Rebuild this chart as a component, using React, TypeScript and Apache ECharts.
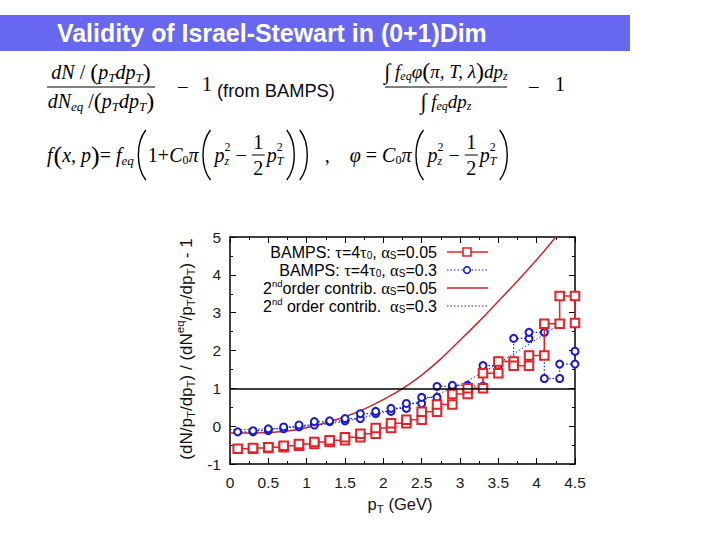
import React, { useEffect, useRef } from 'react';
import * as echarts from 'echarts';

// ---------------- data ----------------
const binEdges = [0.1, 0.3, 0.5, 0.7, 0.9, 1.1, 1.3, 1.5, 1.7, 1.9, 2.1, 2.3, 2.5, 2.7, 2.9, 3.1, 3.3, 3.5, 3.7, 3.9, 4.1, 4.3, 4.5];
const bampsAlpha005 = [-0.6, -0.58, -0.56, -0.52, -0.47, -0.42, -0.37, -0.29, -0.2, -0.05, 0.08, 0.17, 0.38, 0.57, 0.85, 1.0, 1.4, 1.71, 1.6, 1.87, 2.71, 3.44, 2.73];
const bampsAlpha03 = [-0.15, -0.12, -0.07, -0.02, 0.03, 0.12, 0.14, 0.2, 0.33, 0.39, 0.47, 0.6, 0.76, 1.05, 1.08, 1.06, 1.6, 1.72, 2.32, 2.48, 1.26, 1.64, 1.98];

const curve005X = [0, 0.25, 0.5, 0.75, 1.0, 1.25, 1.5, 1.75, 2.0, 2.25, 2.5, 2.75, 3.0, 3.25, 3.5, 3.75, 4.0, 4.25, 4.5];
const curve005Y = [-0.18, -0.18, -0.17, -0.13, -0.04, 0.09, 0.25, 0.45, 0.7, 0.99, 1.35, 1.78, 2.27, 2.77, 3.3, 3.84, 4.4, 5.0, 5.6];
const curve03X = [0, 0.5, 1.0, 1.5, 2.0, 2.5, 3.0, 3.5, 4.0, 4.3];
const curve03Y = [-0.09, -0.07, 0.0, 0.13, 0.36, 0.68, 1.1, 1.66, 2.3, 2.7];

const referenceLevel = 1;
const xTicks = { min: 0, max: 4.5, interval: 0.5 };
const yTicks = { min: -1, max: 5, interval: 1 };

// ---------------- helpers ----------------
const SERIF = 'Liberation Serif';
const SANS = 'Liberation Sans';

function stepPoints(edges: number[], vals: number[]) {
  const pts: number[][] = [[edges[0], vals[0]]];
  for (let k = 1; k < edges.length; k++) {
    pts.push([edges[k], vals[k - 1]]);
    pts.push([edges[k], vals[k]]);
  }
  return pts;
}

let mctx: CanvasRenderingContext2D | null = null;
function tw(t: string, s: number, f: string, it: boolean, b: boolean) {
  if (!mctx) mctx = document.createElement('canvas').getContext('2d');
  if (!mctx) return t.length * s * 0.5;
  mctx.font = `${it ? 'italic ' : ''}${b ? 'bold ' : ''}${s}px "${f}"`;
  return mctx.measureText(t).width;
}
function fit(t: string, f: string, b: boolean, target: number) {
  return (20 * target) / tw(t, 20, f, false, b);
}

function txt(t: string, x: number, y: number, s: number, f: string, it: boolean, b: boolean, c: string, align = 'left') {
  return {
    type: 'text', x, y, silent: true,
    style: {
      text: t, fontSize: s, fontFamily: f, fontStyle: it ? 'italic' : 'normal', fontWeight: b ? 'bold' : 'normal',
      fill: c, align, verticalAlign: 'middle', textAlign: align, textVerticalAlign: 'middle',
    },
  };
}

type Part = {
  t?: string; s?: number; i?: boolean; b?: boolean; f?: string; dy?: number; c?: string; adv?: boolean; sp?: number;
  frac?: [string, string]; fs?: number; fo?: number; paren?: '(' | ')'; h?: number; w?: number;
};
type Base = { s: number; f: string; i?: boolean; b?: boolean; c: string };

function row(parts: Part[], x0: number, y: number, base: Base, align: 'left' | 'center' | 'right' = 'left') {
  let x = 0;
  const items: any[] = [];
  for (const p of parts) {
    x += p.sp || 0;
    if (p.frac) {
      const fs = p.fs || base.s;
      const w = Math.max(tw(p.frac[0], fs, base.f, false, false), tw(p.frac[1], fs, base.f, false, false)) + 3;
      items.push({ kind: 'frac', x, w, p, fs });
      x += w;
    } else if (p.paren) {
      const w = p.w || 12;
      items.push({ kind: 'paren', x, w, p });
      x += w;
    } else {
      const s = p.s ?? base.s;
      const f = p.f ?? base.f;
      const it = p.i ?? base.i ?? false;
      const b = p.b ?? base.b ?? false;
      const w = tw(p.t || '', s, f, it, b);
      items.push({ kind: 'text', x, w, p, s, f, it, b });
      if (p.adv !== false) x += w;
    }
  }
  const total = x;
  const off = align === 'left' ? x0 : align === 'center' ? x0 - total / 2 : x0 - total;
  const els: any[] = [];
  for (const it of items) {
    const c = it.p.c || base.c;
    if (it.kind === 'frac') {
      const cx = off + it.x + it.w / 2;
      const fo = it.p.fo || 12;
      els.push(txt(it.p.frac[0], cx, y - fo, it.fs, base.f, false, false, c, 'center'));
      els.push(txt(it.p.frac[1], cx, y + fo, it.fs, base.f, false, false, c, 'center'));
      els.push({ type: 'line', silent: true, shape: { x1: cx - it.w / 2, y1: y, x2: cx + it.w / 2, y2: y }, style: { stroke: c, lineWidth: 1 } });
    } else if (it.kind === 'paren') {
      const h = it.p.h || 50;
      const x1 = off + it.x;
      const w = it.w;
      const open = it.p.paren === '(';
      const tip = open ? x1 + w - 2 : x1 + 2;
      const belly = open ? x1 + 1 : x1 + w - 1;
      els.push({
        type: 'bezierCurve', silent: true,
        shape: { x1: tip, y1: y - h / 2, cpx1: belly, cpy1: y - h / 4, cpx2: belly, cpy2: y + h / 4, x2: tip, y2: y + h / 2 },
        style: { stroke: c, lineWidth: 1.4, fill: 'none' },
      });
    } else {
      els.push(txt(it.p.t, off + it.x, y + (it.p.dy || 0), it.s, it.f, it.it, it.b, c, 'left'));
    }
  }
  return { els, w: total };
}

function fracRows(num: Part[], den: Part[], cx: number, lineY: number, x1: number, x2: number, upOff: number, downOff: number, base: Base) {
  const a = row(num, cx, lineY - upOff, base, 'center');
  const b = row(den, cx, lineY + downOff, base, 'center');
  return [
    ...a.els, ...b.els,
    { type: 'line', silent: true, shape: { x1, y1: lineY, x2, y2: lineY }, style: { stroke: '#000', lineWidth: 1 } },
  ];
}

function buildGraphics() {
  const els: any[] = [];
  // title banner
  els.push({ type: 'rect', silent: true, shape: { x: 0, y: 15, width: 630, height: 36 }, style: { fill: '#6767f2' } });
  const title = 'Validity of Israel-Stewart in (0+1)Dim';
  els.push(txt(title, 57, 33, fit(title, SANS, true, 430), SANS, false, true, '#ffffff'));

  const fb: Base = { s: 20, f: SERIF, i: true, c: '#000' };
  const sub = (t: string, extra: Part = {}): Part => ({ t, s: 13, dy: 5, ...extra });
  // formula 1
  els.push(...fracRows(
    [{ t: 'dN' }, { t: ' / ', i: false }, { t: '(', i: false, s: 24 }, { t: 'p' }, sub('T'), { t: 'dp' }, sub('T'), { t: ')', i: false, s: 24 }],
    [{ t: 'dN' }, sub('eq'), { t: ' /', i: false }, { t: '(', i: false, s: 24 }, { t: 'p' }, sub('T'), { t: 'dp' }, sub('T'), { t: ')', i: false, s: 24 }],
    101, 87, 47, 155, 15, 14, fb));
  els.push(txt('–', 178, 85, 19, SERIF, false, false, '#000'));
  els.push(txt('1', 202, 84, 20, SERIF, false, false, '#000'));
  const fromB = '(from BAMPS)';
  els.push(txt(fromB, 217, 90, fit(fromB, SANS, false, 118), SANS, false, false, '#0a0a20'));

  // formula 2
  const fb2: Base = { s: 19, f: SERIF, i: true, c: '#000' };
  const sub2 = (t: string): Part => ({ t, s: 12, dy: 5 });
  els.push(...fracRows(
    [{ t: '∫', i: false, s: 22 }, { t: ' f' }, sub2('eq'), { t: 'φ' }, { t: '(', i: false, s: 24 }, { t: 'π, T, λ' }, { t: ')', i: false, s: 24 }, { t: 'dp' }, sub2('z')],
    [{ t: '∫', i: false, s: 22 }, { t: ' f' }, sub2('eq'), { t: 'dp' }, sub2('z')],
    446, 87, 385, 507, 16, 14, fb2));
  els.push(txt('–', 529, 85, 19, SERIF, false, false, '#000'));
  els.push(txt('1', 555, 84, 20, SERIF, false, false, '#000'));

  // formula 3
  const BH = 50;
  const inner: Part[] = [
    { t: 'p', sp: 2 }, { t: 'z', s: 12, dy: 6, adv: false }, { t: '2', i: false, s: 12, dy: -8 },
    { t: ' − ', i: false }, { frac: ['1', '2'], fs: 20, fo: 13 },
    { t: 'p', sp: 2 }, { t: 'T', s: 12, dy: 6, adv: false }, { t: '2', i: false, s: 12, dy: -8 },
  ];
  const f3: Part[] = [
    { t: 'f' }, { t: '(', i: false, s: 26, sp: 1 }, { t: 'x, p' }, { t: ')', i: false, s: 26 }, { t: '= ', i: false }, { t: 'f' }, sub('eq'),
    { paren: '(', h: BH, w: 13, sp: 1 }, { t: '1+', i: false }, { t: 'C' }, { t: '0', i: false, s: 12, dy: 5 }, { t: 'π' },
    { paren: '(', h: BH, w: 13, sp: 1 }, ...inner, { paren: ')', h: BH, w: 13, sp: 2 }, { paren: ')', h: BH, w: 13 },
    { t: ',', i: false, sp: 14 },
    { t: 'φ', sp: 20 }, { t: ' = ', i: false }, { t: 'C' }, { t: '0', i: false, s: 12, dy: 5 }, { t: 'π' },
    { paren: '(', h: BH, w: 13, sp: 1 }, ...inner, { paren: ')', h: BH, w: 13, sp: 2 },
  ];
  els.push(...row(f3, 47, 155, fb).els);

  // legend
  const lb: Base = { s: 16, f: SANS, c: '#000' };
  const g = (t: string, extra: Part = {}): Part => ({ t, f: SERIF, s: 16.5, ...extra });
  const ls = (t: string): Part => ({ t, s: 10, dy: 3.5 });
  const lp = (t: string): Part => ({ t, s: 9.5, dy: -5 });
  const legendRows: Part[][] = [
    [{ t: 'BAMPS: ' }, g('τ'), { t: '=4' }, g('τ'), ls('0'), { t: ', ' }, g('α'), ls('S'), { t: '=0.05' }],
    [{ t: 'BAMPS: ' }, g('τ'), { t: '=4' }, g('τ'), ls('0'), { t: ', ' }, g('α'), ls('S'), { t: '=0.3' }],
    [{ t: '2' }, lp('nd'), { t: 'order contrib. ' }, g('α'), ls('S'), { t: '=0.05' }],
    [{ t: '2' }, lp('nd'), { t: ' order contrib.  ' }, g('α'), ls('S'), { t: '=0.3' }],
  ];
  const rowY = [252, 270, 288, 306];
  legendRows.forEach((r, i) => els.push(...row(r, 437, rowY[i], lb, 'right').els));
  const sx1 = 447, sx2 = 488, sm = 467;
  els.push({ type: 'line', silent: true, shape: { x1: sx1, y1: rowY[0], x2: sx2, y2: rowY[0] }, style: { stroke: '#e4222a', lineWidth: 1.5 } });
  els.push({ type: 'rect', silent: true, shape: { x: sm - 4, y: rowY[0] - 4, width: 8, height: 8 }, style: { fill: '#fff', stroke: '#e4222a', lineWidth: 1.6 } });
  els.push({ type: 'line', silent: true, shape: { x1: sx1, y1: rowY[1], x2: sx2, y2: rowY[1] }, style: { stroke: '#1a1ad0', lineWidth: 1.2, lineDash: [1.5, 2] } });
  els.push({ type: 'circle', silent: true, shape: { cx: sm, cy: rowY[1], r: 3.3 }, style: { fill: '#fff', stroke: '#1a1ad0', lineWidth: 1.6 } });
  els.push({ type: 'line', silent: true, shape: { x1: sx1, y1: rowY[2], x2: sx2, y2: rowY[2] }, style: { stroke: '#c42a30', lineWidth: 1.5 } });
  els.push({ type: 'line', silent: true, shape: { x1: sx1, y1: rowY[3], x2: sx2, y2: rowY[3] }, style: { stroke: '#22229a', lineWidth: 1, lineDash: [1.5, 2] } });

  // axis titles
  const ab: Base = { s: 17, f: SANS, c: '#111' };
  const as = (t: string): Part => ({ t, s: 11.5, dy: 4.5 });
  const ap = (t: string): Part => ({ t, s: 11.5, dy: -6.5 });
  const yt: Part[] = [
    { t: '(dN/p' }, as('T'), { t: '/dp' }, as('T'), { t: ') / (dN' }, ap('eq'), { t: '/p' }, as('T'), { t: '/dp' }, as('T'), { t: ') - 1' },
  ];
  els.push({ type: 'group', x: 186, y: 349, rotation: Math.PI / 2, children: row(yt, 0, 0, ab, 'center').els });
  els.push(...row([{ t: 'p' }, as('T'), { t: ' (GeV)' }], 400, 504, { s: 16.5, f: SANS, c: '#111' }, 'center').els);
  return els;
}

export default function App() {
  const ref = useRef<HTMLDivElement>(null);
  useEffect(() => {
    if (!ref.current) return;
    const chart = echarts.init(ref.current, null, { renderer: 'svg' });
    const axisCommon = {
      type: 'value',
      axisLine: { show: true, onZero: false, lineStyle: { color: '#000', width: 1.5 } },
      axisTick: { show: true, inside: true, length: 6, lineStyle: { color: '#000', width: 1 } },
      minorTick: { show: true, splitNumber: 2, length: 3, lineStyle: { color: '#000', width: 1 } },
      splitLine: { show: false },
      minorSplitLine: { show: false },
    };
    const labelStyle = { fontSize: 15.5, color: '#1a1a1a', fontFamily: SANS };
    const option: any = {
      animation: false,
      backgroundColor: '#ffffff',
      grid: { left: 230, right: 145, top: 237, bottom: 76 },
      xAxis: [
        { ...axisCommon, ...xTicks, position: 'bottom', axisLabel: { ...labelStyle, margin: 10 } },
        { ...axisCommon, ...xTicks, position: 'top', axisLabel: { show: false } },
      ],
      yAxis: [
        { ...axisCommon, ...yTicks, position: 'left', axisLabel: { ...labelStyle, margin: 9 } },
        { ...axisCommon, ...yTicks, position: 'right', axisLabel: { show: false } },
      ],
      series: [
        {
          name: '2nd order contrib. αs=0.05', type: 'line', smooth: 0.3, showSymbol: false,
          data: curve005X.map((x, i) => [x, curve005Y[i]]),
          lineStyle: { color: '#c42a30', width: 1.5 }, itemStyle: { color: '#c42a30' }, z: 2,
          markLine: {
            silent: true, symbol: 'none', label: { show: false },
            lineStyle: { color: '#000', width: 1.5, type: 'solid' },
            data: [{ yAxis: referenceLevel }],
          },
        },
        {
          name: '2nd order contrib. αs=0.3', type: 'line', smooth: 0.3, showSymbol: false,
          data: curve03X.map((x, i) => [x, curve03Y[i]]),
          lineStyle: { color: '#22229a', width: 1, type: [1.5, 2] }, itemStyle: { color: '#22229a' }, z: 2,
        },
        {
          name: 'BAMPS αs=0.3', type: 'line', data: stepPoints(binEdges, bampsAlpha03),
          symbol: 'emptyCircle', symbolSize: 7,
          lineStyle: { color: '#1a1ad0', width: 1.2, type: [1.5, 2] },
          itemStyle: { color: '#1a1ad0', borderWidth: 1.6 }, z: 3,
        },
        {
          name: 'BAMPS αs=0.05', type: 'line', data: stepPoints(binEdges, bampsAlpha005),
          symbol: 'emptyRect', symbolSize: 8.5,
          lineStyle: { color: '#e4222a', width: 1.5 },
          itemStyle: { color: '#e4222a', borderWidth: 1.6 }, z: 4,
        },
      ],
      graphic: buildGraphics(),
    };
    chart.setOption(option);
    return () => chart.dispose();
  }, []);
  return <div ref={ref} style={{ position: 'absolute', left: 0, top: 0, width: 720, height: 540, background: '#fff' }} />;
}
